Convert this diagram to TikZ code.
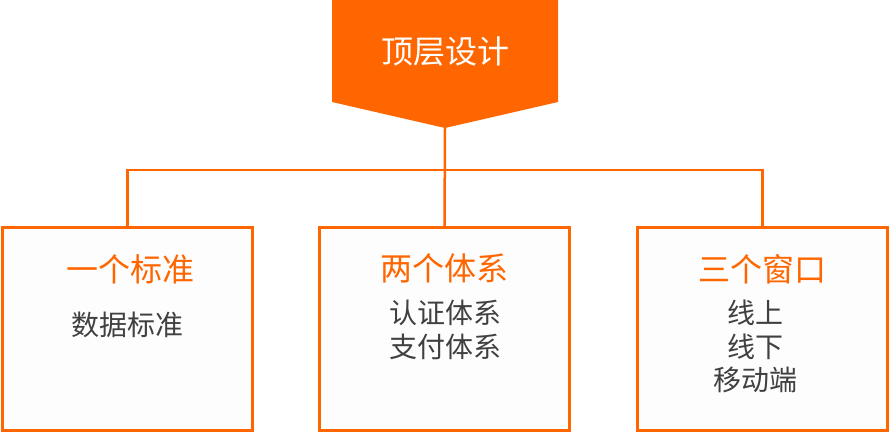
\documentclass[tikz,border=0pt]{standalone}
\usepackage{fontspec}
\newfontfamily\cjk{Noto Sans CJK SC}
\definecolor{org}{HTML}{FF6600}
\definecolor{txt}{HTML}{404040}
\definecolor{boxfill}{HTML}{FDFDFD}
\begin{document}
\begin{tikzpicture}[x=1pt,y=-1pt,
  box/.style={draw=org,line width=3pt,fill=boxfill,minimum width=250pt,minimum height=203pt,inner sep=0pt},
  title/.style={text=org,font=\cjk\fontsize{32}{32}\selectfont,inner sep=0pt},
  body/.style={text=txt,font=\cjk\fontsize{28}{33.5}\selectfont,align=center,inner sep=0pt},
  link/.style={draw=org,line width=2.5pt}]
\useasboundingbox (0,0) rectangle (891,434);
% top pentagon
\fill[org] (332,-2) -- (558,-2) -- (558,102) -- (445,128) -- (332,102) -- cycle;
\coordinate (tip) at (445,128);
\node[text=white,font=\cjk\fontsize{32}{32}\selectfont,inner sep=0pt] (top) at (445,52) {顶层设计};
% boxes
\node[box] (b1) at (127.5,329) {};
\node[box] (b2) at (444.5,329) {};
\node[box] (b3) at (762.5,329) {};
% connectors
\coordinate (bar) at (445,170);
\draw[link] (tip) -- (b2.north);
\draw[link] (b1.north) |- (bar) -| (b3.north);
% texts
\node[title] (t1) at (130,269.5) {一个标准};
\node[title] (t2) at (444.5,268.5) {两个体系};
\node[title] (t3) at (762.5,269.5) {三个窗口};
\node[body] (d1) at (127.5,325) {数据标准};
\node[body] (d2) at (445.5,330) {认证体系\\支付体系};
\node[body] (d3) at (755,346.5) {线上\\线下\\移动端};
\end{tikzpicture}
\end{document}
